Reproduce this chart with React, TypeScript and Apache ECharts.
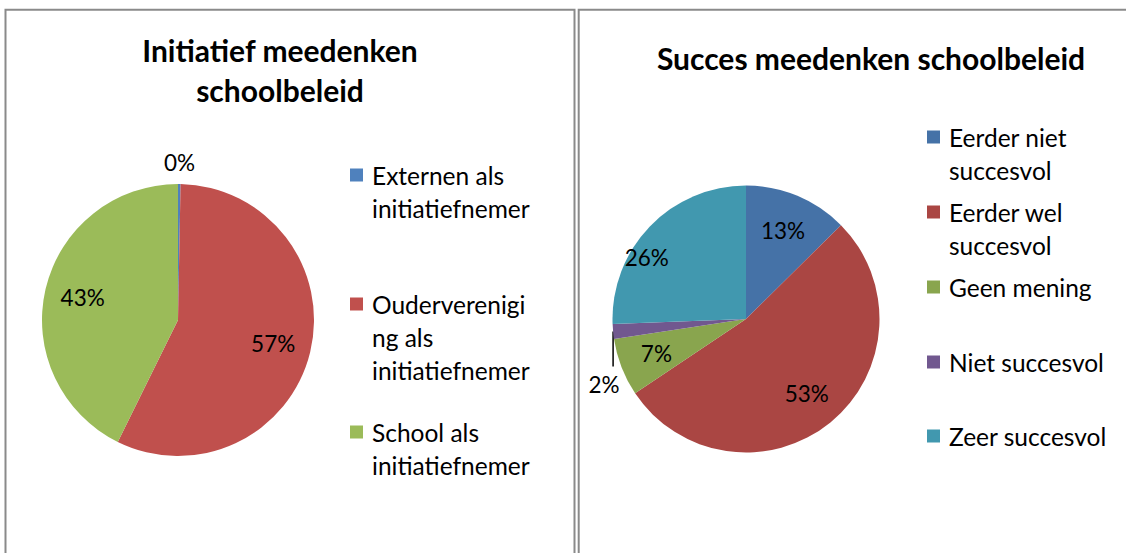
import React, { useEffect, useRef } from "react";
import * as echarts from "echarts";

// ---------- data ----------
const initCategories = [
  "Externen als initiatiefnemer",
  "Oudervereniging als initiatiefnemer",
  "School als initiatiefnemer",
];
const initLegendText = [
  "Externen als\ninitiatiefnemer",
  "Ouderverenigi\nng als\ninitiatiefnemer",
  "School als\ninitiatiefnemer",
];
const initValues = [0.3, 57.0, 42.7];

const succesCategories = [
  "Eerder niet succesvol",
  "Eerder wel succesvol",
  "Geen mening",
  "Niet succesvol",
  "Zeer succesvol",
];
const succesLegendText = [
  "Eerder niet\nsuccesvol",
  "Eerder wel\nsuccesvol",
  "Geen mening",
  "Niet succesvol",
  "Zeer succesvol",
];
const succesValues = [12.6, 53.0, 7.0, 1.8, 25.6];

const initTitle = "Initiatief meedenken\nschoolbeleid";
const succesTitle = "Succes meedenken schoolbeleid";

// ---------- style ----------
const FONT = "Lato, 'Open Sans', sans-serif";
const initColors = ["#4F81BD", "#C0504D", "#9BBB59"];
const succesColors = ["#4572A7", "#AA4643", "#89A54E", "#71588F", "#4198AF"];

const P1 = { cx: 178, cy: 320, r: 136 };
const P2 = { cx: 746, cy: 319, r: 133.5 };
const LINE_H = 33;
const LEGEND_FS = 24.5;
const LABEL_FS = 22.5;

const initLegendY = [175, 304, 432];
const succesLegendY = [137, 212, 287, 362, 436];
// extra label nudges (px) for the second pie (Excel best-fit placement)
const succesLabelNudge = [[0, 0], [0, 0], [0, 0], [0, 0], [-30, 5]];

function midDir(values: number[], i: number) {
  const total = values.reduce((a, b) => a + b, 0);
  let cum = 0;
  for (let j = 0; j < i; j++) cum += values[j];
  const a = ((cum + values[i] / 2) / total) * Math.PI * 2;
  return { sx: Math.sin(a), sy: -Math.cos(a) };
}

function makeLegends(names: string[], texts: string[], ys: number[], left: number) {
  return names.map((name, i) => {
    const n = texts[i].split("\n").length;
    const H = LINE_H * (2 * n - 1);
    // leading blank lines keep the marker level with the first text line
    const shown = "\n".repeat(n - 1) + texts[i];
    return {
      data: [name],
      left,
      top: ys[i] - H / 2,
      orient: "vertical",
      padding: 0,
      itemWidth: 13,
      itemHeight: 13,
      icon: "rect",
      selectedMode: false,
      formatter: () => shown,
      textStyle: {
        fontFamily: FONT,
        fontSize: LEGEND_FS,
        lineHeight: LINE_H,
        color: "#000",
        padding: [0, 0, 0, 4],
      },
    };
  });
}

export default function App() {
  const ref = useRef<HTMLDivElement>(null);
  useEffect(() => {
    if (!ref.current) return;
    const chart = echarts.init(ref.current, undefined, { renderer: "svg" });
    const fmt = (p: any) => `${Math.round(p.percent)}%`;
    const titleStyle = { fontFamily: FONT, fontSize: 30, fontWeight: "bold", lineHeight: 40, color: "#000" };

    const option: any = {
      animation: false,
      backgroundColor: "#fff",
      title: [
        { text: initTitle, left: 280, top: 30, textAlign: "center", padding: 0, textStyle: titleStyle },
        { text: succesTitle, left: 871, top: 38, textAlign: "center", padding: 0, textStyle: titleStyle },
      ],
      legend: [
        ...makeLegends(initCategories, initLegendText, initLegendY, 350),
        ...makeLegends(succesCategories, succesLegendText, succesLegendY, 927),
      ],
      graphic: [
        {
          type: "rect",
          shape: { x: 5.5, y: 9.7, width: 569, height: 600 },
          style: { fill: "none", stroke: "#8a8a8a", lineWidth: 2 },
          silent: true,
        },
        {
          type: "rect",
          shape: { x: 578.7, y: 9.7, width: 600, height: 600 },
          style: { fill: "none", stroke: "#8a8a8a", lineWidth: 2 },
          silent: true,
        },
      ],
      series: [
        {
          type: "pie",
          center: [P1.cx, P1.cy],
          radius: P1.r,
          startAngle: 90,
          clockwise: true,
          avoidLabelOverlap: false,
          color: initColors,
          itemStyle: { borderWidth: 0 },
          emphasis: { disabled: true },
          label: {
            show: true,
            position: "inside",
            formatter: fmt,
            fontFamily: FONT,
            fontSize: LABEL_FS,
            color: "#000",
          },
          labelLine: { show: false },
          labelLayout: (params: any) => {
            const i = params.dataIndex;
            const { sx, sy } = midDir(initValues, i);
            const d = i === 0 ? P1.r + 22 : P1.r * 0.72;
            return { x: P1.cx + sx * d, y: P1.cy + sy * d, align: "center", verticalAlign: "middle" };
          },
          data: initCategories.map((name, i) => ({ name, value: initValues[i] })),
        },
        {
          type: "pie",
          center: [P2.cx, P2.cy],
          radius: P2.r,
          startAngle: 90,
          clockwise: true,
          avoidLabelOverlap: false,
          color: succesColors,
          itemStyle: { borderWidth: 0 },
          emphasis: { disabled: true },
          label: {
            show: true,
            position: "inside",
            formatter: fmt,
            fontFamily: FONT,
            fontSize: LABEL_FS,
            color: "#000",
          },
          labelLine: { show: false },
          labelLayout: (params: any) => {
            const i = params.dataIndex;
            const { sx, sy } = midDir(succesValues, i);
            if (i === 3) {
              const ex = P2.cx + sx * P2.r;
              const ey = P2.cy + sy * P2.r;
              return {
                x: ex - 9,
                y: ey + 53,
                align: "center",
                verticalAlign: "middle",
                labelLinePoints: [
                  [ex, ey],
                  [ex, ey + 18],
                  [ex, ey + 35],
                ],
              };
            }
            const d = P2.r * 0.72;
            const [nx, ny] = succesLabelNudge[i];
            return { x: P2.cx + sx * d + nx, y: P2.cy + sy * d + ny, align: "center", verticalAlign: "middle" };
          },
          data: succesCategories.map((name, i) =>
            i === 3
              ? {
                  name,
                  value: succesValues[i],
                  label: { position: "outside" },
                  labelLine: { show: true, length: 10, length2: 10, lineStyle: { color: "#000", width: 1.5 } },
                }
              : { name, value: succesValues[i] }
          ),
        },
      ],
    };
    chart.setOption(option);
    return () => chart.dispose();
  }, []);

  return (
    <div
      ref={ref}
      style={{ position: "absolute", left: 0, top: 0, width: 1126, height: 553, background: "#fff" }}
    />
  );
}
